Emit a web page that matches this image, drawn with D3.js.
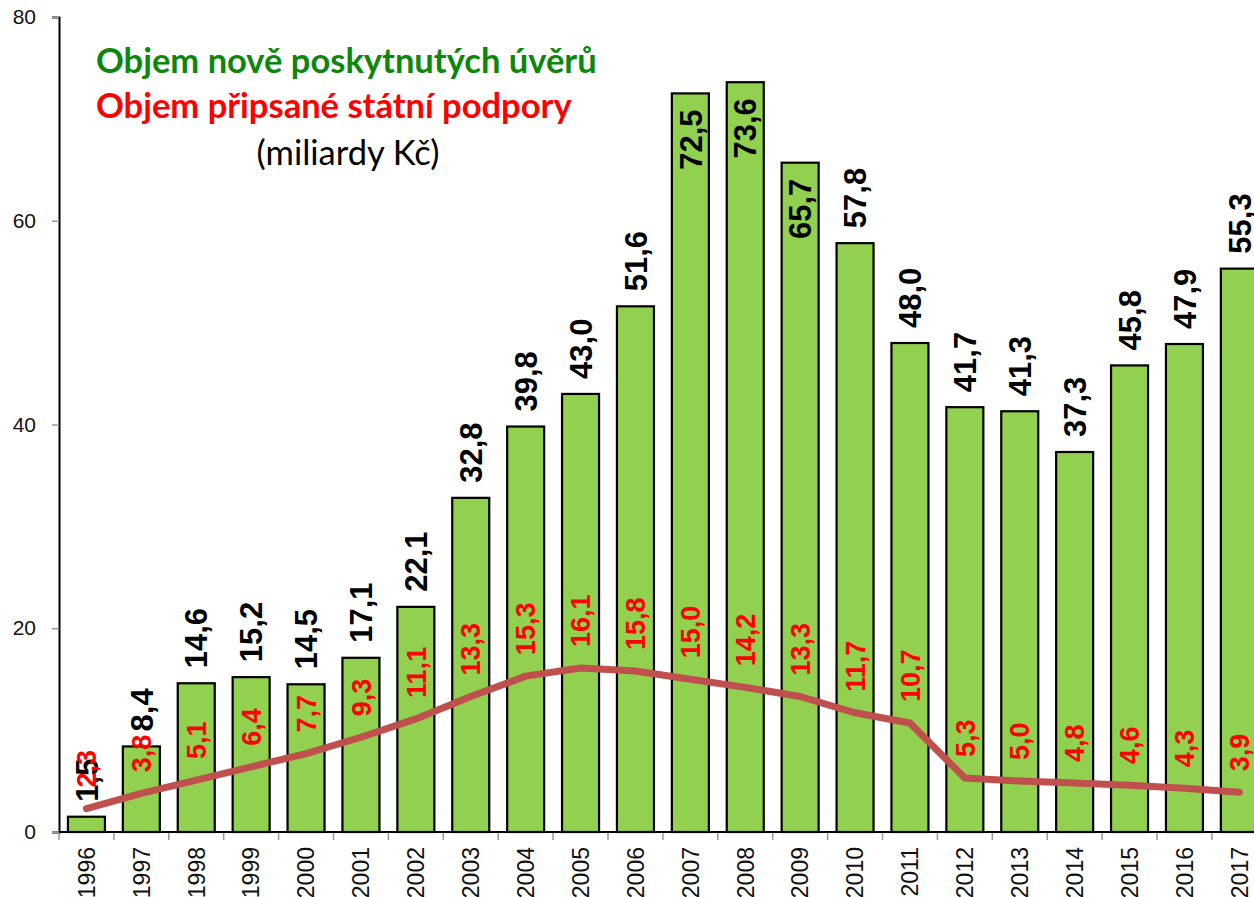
<!DOCTYPE html>
<html>
<head>
<meta charset="utf-8">
<script src="https://cdn.jsdelivr.net/npm/d3@7"></script>
<style>
  body { margin: 0; background: #fff; }
  svg { display: block; }
</style>
</head>
<body>
<svg id="chart" width="1254" height="897"></svg>
<script>
const years = ["1996", "1997", "1998", "1999", "2000", "2001", "2002", "2003", "2004", "2005", "2006",
    "2007", "2008", "2009", "2010", "2011", "2012", "2013", "2014", "2015", "2016", "2017"];
const loans = [1.5, 8.4, 14.6, 15.2, 14.5, 17.1, 22.1, 32.8, 39.8, 43.0, 51.6,
    72.5, 73.6, 65.7, 57.8, 48.0, 41.7, 41.3, 37.3, 45.8, 47.9, 55.3];
const support = [2.3, 3.8, 5.1, 6.4, 7.7, 9.3, 11.1, 13.3, 15.3, 16.1, 15.8,
    15.0, 14.2, 13.3, 11.7, 10.7, 5.3, 5.0, 4.8, 4.6, 4.3, 3.9];
const yTicks = [0, 20, 40, 60, 80];

const svg = d3.select('#chart');
const plotLeft = 59;
const step = 54.9;
const plotBottom = 832;
const plotTop = 17;

const x = d3.scaleBand()
    .domain(years)
    .range([plotLeft, plotLeft + years.length * step])
    .paddingInner(0.326)
    .paddingOuter(0.163);

const y = d3.scaleLinear()
    .domain([0, 80])
    .range([plotBottom, plotTop]);

const fmt = function(v) {
    return v.toFixed(1).replace('.', ',');
}

// bars
svg.append("g")
    .selectAll("rect")
    .data(loans)
    .join("rect")
    .attr("x", (d, i) => x(years[i]))
    .attr("y", d => y(d))
    .attr("width", x.bandwidth())
    .attr("height", d => y(0) - y(d))
    .attr("fill", "#92d050")
    .attr("stroke", "#000")
    .attr("stroke-width", 2.2);

// y axis
const yAxis = svg.append("g")
    .attr("transform", `translate(${plotLeft},0)`)
    .call(d3.axisLeft(y).tickValues(yTicks).tickSize(7).tickPadding(16));
yAxis.select(".domain").attr("stroke", "#000").attr("stroke-width", 2);
yAxis.selectAll(".tick line").attr("stroke", "#999").attr("stroke-width", 1.5);
yAxis.selectAll(".tick text")
    .attr("font-family", "Liberation Sans, Arial, sans-serif")
    .attr("font-size", 21)
    .attr("fill", "#111");

// x axis line and category ticks
svg.append("line")
    .attr("x1", plotLeft)
    .attr("x2", 1254)
    .attr("y1", plotBottom)
    .attr("y2", plotBottom)
    .attr("stroke", "#000")
    .attr("stroke-width", 2);

svg.append("g")
    .selectAll("line")
    .data(years)
    .join("line")
    .attr("x1", d => x(d) - x.step() * x.paddingOuter())
    .attr("x2", d => x(d) - x.step() * x.paddingOuter())
    .attr("y1", plotBottom + 1)
    .attr("y2", plotBottom + 8)
    .attr("stroke", "#999")
    .attr("stroke-width", 1.5);

svg.append("g")
    .selectAll("text")
    .data(years)
    .join("text")
    .attr("transform", d => `translate(${x(d) + x.bandwidth() / 2},${plotBottom + 15}) rotate(-90)`)
    .attr("dy", "0.36em")
    .attr("text-anchor", "end")
    .attr("font-family", "Liberation Sans, Arial, sans-serif")
    .attr("font-size", 23)
    .attr("fill", "#111")
    .text(d => d);

// support line
const line = d3.line()
    .x((d, i) => x(years[i]) + x.bandwidth() / 2)
    .y(d => y(d));

svg.append("path")
    .datum(support)
    .attr("d", line)
    .attr("fill", "none")
    .attr("stroke", "#c0504d")
    .attr("stroke-width", 7)
    .attr("stroke-linecap", "round")
    .attr("stroke-linejoin", "round");

// loan labels (inside end for the tallest bars)
svg.append("g")
    .selectAll("text")
    .data(loans)
    .join("text")
    .attr("transform", function(d, i) {
        const cx = x(years[i]) + x.bandwidth() / 2;
        const ty = d > 60 ? y(d) + 16 : y(d) - 15;
        return `translate(${cx},${ty}) rotate(-90)`;
    })
    .attr("dy", "0.36em")
    .attr("text-anchor", d => d > 60 ? "end" : "start")
    .attr("font-family", "Liberation Sans, Arial, sans-serif")
    .attr("font-weight", "bold")
    .attr("font-size", 31)
    .attr("fill", "#000")
    .text(d => fmt(d));

// support labels
svg.append("g")
    .selectAll("text")
    .data(support)
    .join("text")
    .attr("transform", (d, i) => `translate(${x(years[i]) + x.bandwidth() / 2},${y(d) - 21}) rotate(-90)`)
    .attr("dy", "0.36em")
    .attr("text-anchor", "start")
    .attr("font-family", "Liberation Sans, Arial, sans-serif")
    .attr("font-weight", "bold")
    .attr("font-size", 27)
    .attr("fill", "#ff0000")
    .text(d => fmt(d));

// title block
const titleFont = "Lato, Open Sans, sans-serif";
svg.append("text")
    .attr("x", 96)
    .attr("y", 73)
    .attr("font-family", titleFont)
    .attr("font-weight", "bold")
    .attr("font-size", 34.5)
    .attr("fill", "#0b870b")
    .text("Objem nově poskytnutých úvěrů");
svg.append("text")
    .attr("x", 96)
    .attr("y", 118)
    .attr("font-family", titleFont)
    .attr("font-weight", "bold")
    .attr("font-size", 34.5)
    .attr("fill", "#ff0000")
    .text("Objem připsané státní podpory");
svg.append("text")
    .attr("x", 348)
    .attr("y", 165)
    .attr("text-anchor", "middle")
    .attr("font-family", titleFont)
    .attr("font-size", 34.5)
    .attr("fill", "#000")
    .text("(miliardy Kč)");
</script>
</body>
</html>
